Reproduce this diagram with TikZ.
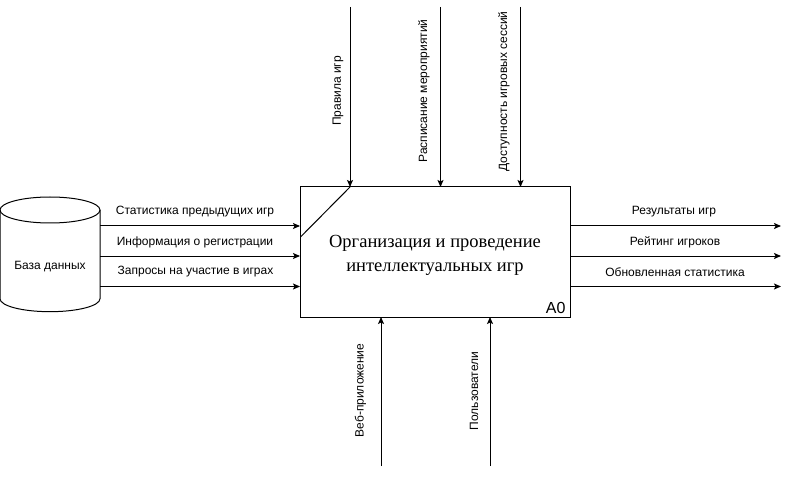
\documentclass[tikz,border=0pt]{standalone}
\usepackage{fontspec}
\setmainfont{Liberation Sans}
\newfontfamily\serifrm{Liberation Serif}
\usetikzlibrary{arrows.meta}
\begin{document}
\begin{tikzpicture}[x=1pt,y=-1pt,
  arr/.style={line width=1pt,-{Stealth[length=7pt,width=6pt,inset=1.5pt]}},
  lbl/.style={font=\fontsize{12}{14}\selectfont,inner sep=0pt},
  vlbl/.style={lbl,rotate=90},
  every path/.style={line width=1pt}]
\useasboundingbox (0,0) rectangle (789,478);
% main box
\node[draw,minimum width=270pt,minimum height=130pt,inner sep=0pt] (A0) at (435,252) {};
\node[font=\serifrm\fontsize{18.5}{24}\selectfont,align=center,inner sep=0pt] (title) at (435,255) {Организация и проведение\\интеллектуальных игр};
\node[font=\fontsize{16}{18}\selectfont,anchor=south east,inner sep=0pt] (code) at (566,314) {A0};
\coordinate (diagA) at (350,187);
\coordinate (diagB) at (300.5,237);
\draw (diagA) -- (diagB);
% database cylinder
\draw (50,210) ellipse [x radius=50, y radius=13];
\draw (0,210) -- (0,298.7) arc[start angle=180, end angle=0, x radius=50, y radius=13] -- (100,210);
\node[lbl] (db) at (50,267) {База данных};
% left inputs
\foreach \n/\y in {1/226,2/256,3/286.5}{
  \coordinate (inS\n) at (100,\y);
  \coordinate (inE\n) at (300,\y);
  \draw[arr] (inS\n) -- (inE\n);
}
\node[lbl] (l1) at (195,211.5) {Статистика предыдущих игр};
\node[lbl] (l2) at (195,242) {Информация о регистрации};
\node[lbl] (l3) at (195.5,272) {Запросы на участие в играх};
% right outputs
\foreach \n/\y in {1/226,2/256,3/286.5}{
  \coordinate (outS\n) at (570,\y);
  \coordinate (outE\n) at (781,\y);
  \draw[arr] (outS\n) -- (outE\n);
}
\node[lbl] (r1) at (674,211.5) {Результаты игр};
\node[lbl] (r2) at (675,242) {Рейтинг игроков};
\node[lbl] (r3) at (675,272) {Обновленная статистика};
% top controls
\foreach \n/\x in {1/350,2/440.5,3/520.5}{
  \coordinate (cS\n) at (\x,7);
  \coordinate (cE\n) at (\x,187);
  \draw[arr] (cS\n) -- (cE\n);
}
\node[vlbl] (t1) at (338,91) {Правила игр};
\node[vlbl] (t2) at (424,91) {Расписание мероприятий};
\node[vlbl] (t3) at (504,91.5) {Доступность игровых сессий};
% bottom mechanisms
\foreach \n/\x in {1/381,2/490}{
  \coordinate (mS\n) at (\x,466);
  \coordinate (mE\n) at (\x,317);
  \draw[arr] (mS\n) -- (mE\n);
}
\node[vlbl] (b1) at (360.5,390.5) {Веб-приложение};
\node[vlbl] (b2) at (474,391) {Пользователи};
\end{tikzpicture}
\end{document}
